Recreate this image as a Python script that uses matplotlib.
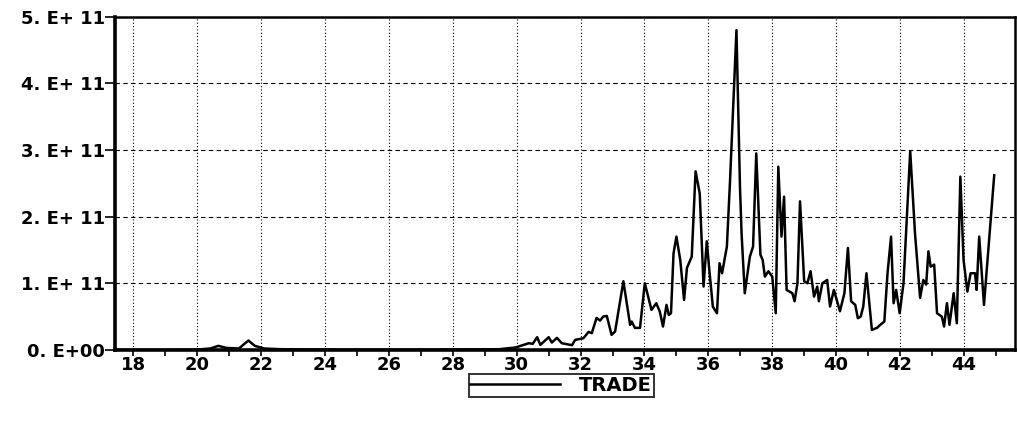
import matplotlib
matplotlib.use("Agg")
import matplotlib.pyplot as plt
from matplotlib.ticker import MultipleLocator

# --- data (x = year index, y in units of 1e11) ---
year = [17.5, 19.0, 20.0, 20.4, 20.66, 20.9, 21.3, 21.6, 21.8, 22.1, 22.6, 23.5,
        25.0, 27.0, 28.5, 29.45, 29.96, 30.38, 30.5, 30.64, 30.74, 31.0, 31.1,
        31.26, 31.41, 31.73, 31.83, 32.09, 32.25, 32.35, 32.5, 32.61, 32.71,
        32.82, 32.97, 33.08, 33.34, 33.55, 33.6, 33.7, 33.86, 34.01, 34.22,
        34.37, 34.48, 34.58, 34.69, 34.76, 34.83, 34.91, 35.0, 35.12, 35.24,
        35.33, 35.48, 35.6, 35.73, 35.85, 35.95, 36.04, 36.14, 36.27, 36.35,
        36.43, 36.58, 36.68, 36.88, 36.99, 37.04, 37.14, 37.3, 37.4, 37.5,
        37.63, 37.7, 37.77, 37.88, 38.0, 38.11, 38.19, 38.29, 38.37, 38.45,
        38.63, 38.7, 38.79, 38.87, 39.0, 39.1, 39.2, 39.31, 39.41, 39.46,
        39.57, 39.72, 39.81, 39.93, 40.12, 40.26, 40.37, 40.47, 40.6, 40.68,
        40.77, 40.85, 40.95, 41.12, 41.28, 41.38, 41.51, 41.61, 41.72, 41.8,
        41.88, 41.99, 42.11, 42.32, 42.47, 42.63, 42.73, 42.82, 42.89, 42.96,
        43.07, 43.16, 43.31, 43.38, 43.47, 43.55, 43.68, 43.78, 43.89, 43.99,
        44.11, 44.21, 44.35, 44.4, 44.48, 44.63, 44.95]
trade = [0.0, 0.0, 0.005, 0.02, 0.06, 0.03, 0.02, 0.14, 0.06, 0.02, 0.01, 0.005,
         0.003, 0.003, 0.005, 0.01, 0.035, 0.10, 0.09, 0.19, 0.075, 0.19, 0.11,
         0.18, 0.10, 0.07, 0.15, 0.175, 0.27, 0.25, 0.48, 0.44, 0.50,
         0.51, 0.225, 0.275, 1.03, 0.375, 0.425, 0.33, 0.33, 1.0, 0.60,
         0.70, 0.575, 0.35, 0.675, 0.525, 0.55, 1.45, 1.70, 1.35, 0.75,
         1.23, 1.40, 2.68, 2.35, 0.95, 1.63, 1.15, 0.65, 0.55, 1.30,
         1.15, 1.55, 2.55, 4.80, 2.45, 1.75, 0.85, 1.40, 1.55, 2.95,
         1.43, 1.35, 1.10, 1.18, 1.10, 0.55, 2.75, 1.70, 2.30, 0.90,
         0.85, 0.73, 1.00, 2.23, 1.03, 1.00, 1.18, 0.80, 0.95, 0.73,
         1.00, 1.05, 0.65, 0.90, 0.58, 0.85, 1.53, 0.73, 0.675, 0.475,
         0.50, 0.65, 1.15, 0.30, 0.33, 0.375, 0.425, 1.15, 1.70, 0.70,
         0.90, 0.55, 1.00, 2.98, 1.75, 0.78, 1.05, 0.98, 1.48, 1.25,
         1.28, 0.55, 0.50, 0.35, 0.70, 0.375, 0.85, 0.40, 2.60, 1.35,
         0.875, 1.15, 1.15, 0.90, 1.70, 0.675, 2.62]
trade = [v * 1e11 for v in trade]

y_ticks = [0, 1e11, 2e11, 3e11, 4e11, 5e11]
y_labels = ["0. E+00", "1. E+ 11", "2. E+ 11", "3. E+ 11", "4. E+ 11", "5. E+ 11"]

plt.rcParams["font.family"] = ["DejaVu Sans"]

fig = plt.figure(figsize=(10.17, 4.21), dpi=100)
ax = fig.add_axes([0.113, 0.169, 0.885, 0.791])

ax.plot(year, trade, color="black", linewidth=1.8, label="TRADE")

ax.set_xlim(17.42, 45.6)
ax.set_ylim(0, 5e11)
ax.xaxis.set_major_locator(MultipleLocator(2))
ax.xaxis.set_minor_locator(MultipleLocator(1))
ax.set_yticks(y_ticks)
ax.set_yticklabels(y_labels)

ax.grid(axis="x", which="major", linestyle=(0, (1, 2)), color="black", linewidth=0.8)
ax.grid(axis="y", which="major", linestyle=(0, (4, 3)), color="black", linewidth=0.8)

ax.tick_params(axis="x", which="major", direction="out", length=4, width=1.2,
               labelsize=13, pad=0.5)
ax.tick_params(axis="x", which="minor", direction="out", length=4, width=1.2)
ax.tick_params(axis="y", direction="out", length=7, width=1.2, labelsize=13, pad=0)
for lab in ax.get_xticklabels() + ax.get_yticklabels():
    lab.set_fontweight("bold")

for side, w in [("left", 2.6), ("bottom", 2.6), ("top", 1.8), ("right", 1.8)]:
    ax.spines[side].set_linewidth(w)

leg = ax.legend(loc="upper center", bbox_to_anchor=(0.496, -0.072), frameon=True,
                fancybox=False, edgecolor="black", handlelength=4.6,
                prop={"weight": "bold", "size": 14}, borderpad=0.1,
                borderaxespad=0, handletextpad=1.0)
leg.get_frame().set_linewidth(1.4)
for t in leg.get_texts():
    t.set_fontstretch("expanded")

fig.savefig("out.png", dpi=100)
